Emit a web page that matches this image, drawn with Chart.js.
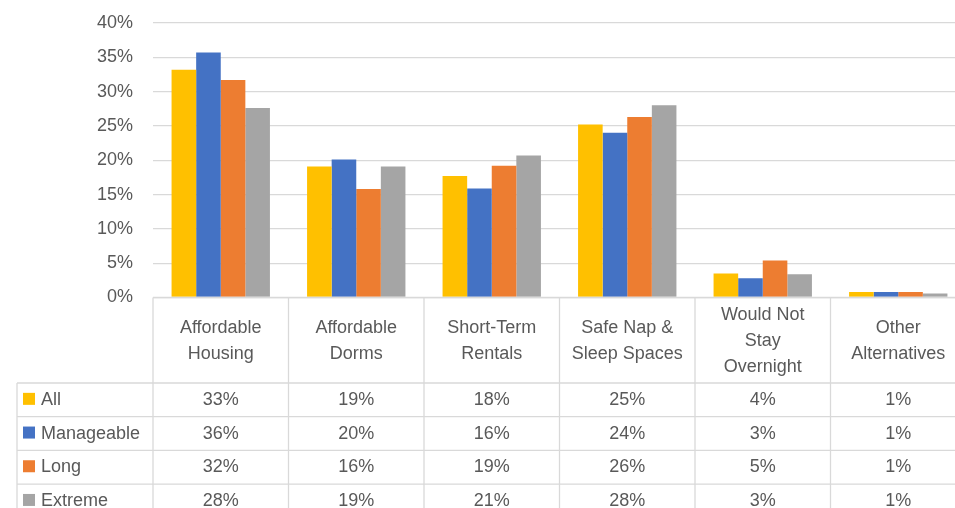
<!DOCTYPE html>
<html>
<head>
<meta charset="utf-8">
<script src="https://cdn.jsdelivr.net/npm/chart.js@4"></script>
<style>
  html, body { margin: 0; padding: 0; background: #fff; overflow: hidden; }
  #wrap { position: absolute; left: 0; top: 0; width: 966px; height: 520px; }
</style>
</head>
<body>
<div id="wrap"><canvas id="chart"></canvas></div>
<script>
// categories (header row of the data table)
const categories = ['Affordable Housing', 'Affordable Dorms', 'Short-Term Rentals', 'Safe Nap & Sleep Spaces', 'Would Not Stay Overnight', 'Other Alternatives'];
const headerLines = [
  ['Affordable', 'Housing'],
  ['Affordable', 'Dorms'],
  ['Short-Term', 'Rentals'],
  ['Safe Nap &', 'Sleep Spaces'],
  ['Would Not', 'Stay', 'Overnight'],
  ['Other', 'Alternatives']
];

// series values in percent
const allValues        = [33.2, 19.1, 17.7, 25.2, 3.5, 0.8];
const manageableValues = [35.7, 20.1, 15.9, 24.0, 2.8, 0.8];
const longValues       = [31.7, 15.8, 19.2, 26.3, 5.4, 0.8];
const extremeValues    = [27.6, 19.1, 20.7, 28.0, 3.4, 0.6];

const seriesNames  = ['All', 'Manageable', 'Long', 'Extreme'];
const seriesColors = ['#FFC000', '#4472C4', '#ED7D31', '#A5A5A5'];
const seriesValues = [allValues, manageableValues, longValues, extremeValues];

const yTicks = [0, 5, 10, 15, 20, 25, 30, 35, 40];

const FONT = 'Liberation Sans, Arial, sans-serif';
const TEXT = '#595959';
const LINE = '#d9d9d9';

// data table drawn under the plot, positioned from the x scale
const dataTable = {
  id: 'dataTable',
  afterDraw(chart) {
    const ctx = chart.ctx;
    const area = chart.chartArea;
    const x = chart.scales.x;
    const n = categories.length;
    const colW = (x.right - x.left) / n;
    const top = area.bottom;
    const headH = 85.5;
    const rowH = 33.7;
    const legendLeft = 17;
    const bottom = top + headH + rowH * seriesNames.length;

    ctx.save();
    ctx.strokeStyle = LINE;
    ctx.lineWidth = 1.3;

    // axis line / table top
    ctx.beginPath();
    ctx.moveTo(area.left, top);
    ctx.lineTo(x.right, top);
    ctx.stroke();

    // column separators
    for (let i = 0; i <= n; i++) {
      const cx = x.getPixelForValue(i) - colW / 2;
      ctx.beginPath();
      ctx.moveTo(cx, top);
      ctx.lineTo(cx, bottom);
      ctx.stroke();
    }
    // legend column left border
    ctx.beginPath();
    ctx.moveTo(legendLeft, top + headH);
    ctx.lineTo(legendLeft, bottom);
    ctx.stroke();

    // row lines
    for (let r = 0; r <= seriesNames.length; r++) {
      const ry = top + headH + r * rowH;
      ctx.beginPath();
      ctx.moveTo(legendLeft, ry);
      ctx.lineTo(x.right, ry);
      ctx.stroke();
    }

    ctx.fillStyle = TEXT;
    ctx.font = '18px ' + FONT;
    ctx.textBaseline = 'middle';
    ctx.textAlign = 'center';

    // header labels
    const lh = 26;
    headerLines.forEach((lines, i) => {
      const cx = x.getPixelForValue(i);
      const cy = top + headH / 2 + 1;
      const y0 = cy - (lines.length - 1) * lh / 2;
      lines.forEach((t, k) => ctx.fillText(t, cx, y0 + k * lh));
    });

    // values
    seriesValues.forEach((vals, r) => {
      const cy = top + headH + r * rowH + rowH / 2;
      vals.forEach((v, i) => {
        ctx.fillText(Math.round(v) + '%', x.getPixelForValue(i), cy);
      });
    });

    // legend keys
    ctx.textAlign = 'left';
    seriesNames.forEach((name, r) => {
      const cy = top + headH + r * rowH + rowH / 2;
      ctx.fillStyle = seriesColors[r];
      ctx.fillRect(23, cy - 7, 12, 12);
      ctx.fillStyle = TEXT;
      ctx.fillText(name, 41, cy);
    });

    ctx.restore();
  }
};

new Chart(document.getElementById('chart'), {
  type: 'bar',
  data: {
    labels: categories,
    datasets: seriesNames.map((name, i) => ({
      label: name,
      data: seriesValues[i],
      backgroundColor: seriesColors[i],
      borderWidth: 0,
      categoryPercentage: 0.726,
      barPercentage: 1
    }))
  },
  options: {
    responsive: true,
    maintainAspectRatio: false,
    animation: false,
    layout: { padding: { top: 23, right: 0, left: 0, bottom: 222.5 } },
    plugins: {
      legend: { display: false },
      tooltip: { enabled: false }
    },
    scales: {
      x: {
        display: false
      },
      y: {
        min: 0,
        max: 40,
        afterFit(scale) {
          scale.width = 153;
          scale.paddingTop = 0;
          scale.paddingBottom = 0;
        },
        afterBuildTicks(scale) { scale.ticks = yTicks.map(v => ({ value: v })); },
        border: { display: false },
        grid: { color: LINE, lineWidth: 1.3, drawTicks: false },
        ticks: {
          padding: 20,
          color: TEXT,
          font: { family: FONT, size: 18 },
          callback: v => v + '%'
        }
      }
    }
  },
  plugins: [dataTable]
});
</script>
</body>
</html>
